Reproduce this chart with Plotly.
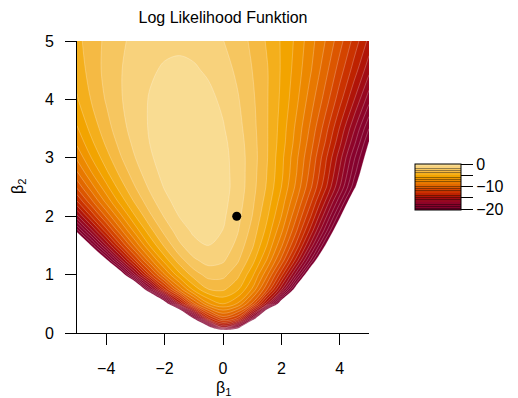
import plotly.graph_objects as go

# ---- data (log-likelihood surface, estimated) ----
beta1 = [-5, -4.5, -4, -3.5, -3, -2.5, -2, -1.5, -1, -0.5, 0, 0.5, 1, 1.5, 2, 2.5, 3, 3.5, 4, 4.5, 5]
beta2 = [0, 0.1, 0.25, 0.5, 0.75, 1.0, 1.25, 1.5, 1.75, 2.0, 2.25, 2.5, 2.75, 3.0, 3.25, 3.5, 4.0, 4.5, 5.0]

loglik = [
    [-30, -30, -30, -30, -30, -30, -30, -30, -30, -30, -27, -28, -30, -30, -30, -30, -30, -30, -30, -30, -30],
    [-30, -30, -30, -30, -30, -30, -30, -30, -30, -22.0, -15.8, -19.0, -30, -30, -30, -30, -30, -30, -30, -30, -30],
    [-30, -30, -30, -30, -30, -30, -30, -30, -20.8, -13.5, -10.6, -12.2, -18.5, -29.4, -30, -30, -30, -30, -30, -30, -30],
    [-30, -30, -30, -30, -30, -30, -22.8, -15.5, -10.2, -7.1, -6.0, -7.1, -10.2, -15.5, -22.8, -30, -30, -30, -30, -30, -30],
    [-30, -30, -30, -30, -25.4, -18.4, -12.8, -8.6, -5.6, -4.0, -3.8, -4.8, -7.1, -10.8, -15.7, -22.0, -29.5, -30, -30, -30, -30],
    [-30, -30, -29.2, -22.5, -16.7, -11.9, -8.1, -5.3, -3.5, -2.6, -2.7, -3.7, -5.7, -8.7, -12.6, -17.4, -23.2, -29.9, -30, -30, -30],
    [-30, -27.2, -21.3, -16.2, -11.9, -8.3, -5.5, -3.44, -2.15, -1.62, -1.84, -2.82, -4.55, -7.03, -10.26, -14.25, -18.99, -24.48, -30, -30, -30],
    [-26.0, -20.7, -16.1, -12.1, -8.7, -5.9, -3.8, -2.2, -1.3, -1.0, -1.3, -2.3, -3.8, -6.0, -8.8, -12.2, -16.3, -21.0, -26.3, -30, -30],
    [-20.4, -16.2, -12.5, -9.26, -6.56, -4.36, -2.67, -1.49, -0.82, -0.66, -1.02, -1.91, -3.34, -5.29, -7.78, -10.8, -14.35, -18.43, -23.05, -28.2, -30],
    [-16.3, -12.8, -9.8, -7.2, -5.0, -3.2, -1.9, -0.97, -0.49, -0.43, -0.83, -1.7, -3.0, -4.8, -7.0, -9.8, -12.9, -16.6, -20.7, -25.2, -30],
    [-13.1, -10.24, -7.73, -5.59, -3.8, -2.37, -1.31, -0.60, -0.26, -0.28, -0.70, -1.53, -2.77, -4.41, -6.46, -8.91, -11.77, -15.04, -18.72, -22.8, -27.3],
    [-10.8, -8.4, -6.3, -4.45, -3.0, -1.8, -0.92, -0.36, -0.11, -0.19, -0.62, -1.4, -2.6, -4.1, -6.0, -8.2, -10.8, -13.7, -17.0, -20.7, -24.7],
    [-9.09, -7.01, -5.2, -3.66, -2.4, -1.4, -0.68, -0.24, -0.06, -0.18, -0.64, -1.42, -2.54, -3.99, -5.77, -7.88, -10.33, -13.11, -16.22, -19.67, -23.0],
    [-7.8, -5.97, -4.4, -3.07, -2.0, -1.14, -0.53, -0.17, -0.05, -0.21, -0.67, -1.45, -2.5, -3.9, -5.7, -7.7, -10.0, -12.7, -15.6, -18.9, -22.0],
    [-6.82, -5.21, -3.83, -2.66, -1.71, -0.98, -0.47, -0.18, -0.10, -0.29, -0.76, -1.52, -2.56, -3.89, -5.5, -7.39, -9.57, -12.04, -14.78, -17.82, -21.13],
    [-6.1, -4.64, -3.4, -2.37, -1.5, -0.91, -0.48, -0.24, -0.22, -0.43, -0.91, -1.65, -2.65, -3.9, -5.4, -7.2, -9.2, -11.5, -14.1, -16.9, -20.0],
    [-5.1, -3.91, -2.9, -2.08, -1.4, -0.93, -0.61, -0.46, -0.49, -0.74, -1.2, -1.9, -2.8, -3.9, -5.2, -6.7, -8.5, -10.4, -12.6, -15.0, -17.6],
    [-4.6, -3.57, -2.7, -2.05, -1.5, -1.12, -0.89, -0.80, -0.88, -1.14, -1.57, -2.2, -3.0, -3.9, -5.1, -6.4, -7.9, -9.6, -11.5, -13.5, -15.7],
    [-4.3, -3.47, -2.8, -2.18, -1.7, -1.42, -1.24, -1.20, -1.31, -1.56, -1.97, -2.5, -3.2, -4.1, -5.1, -6.2, -7.6, -9.0, -10.6, -12.4, -14.3],
]

# point marked in the plot
point_b1 = [0.47]
point_b2 = [2.0]

# contour levels (-21 ... -1) and band colours (band k = values in [-k, -k+1])
level_start, level_end, level_step = -21, -1, 1
band_colors = [
    "#F9DC92", "#F8D27C", "#F6C660", "#F5BA44", "#F4AF1C", "#F2A400", "#F09600",
    "#EC8800", "#E87800", "#E26800", "#DC5600", "#D44400", "#CA3200", "#BE2200",
    "#B01408", "#A20C14", "#960820", "#8E0428", "#88022C", "#84022E", "#800030",
]

x_ticks = [-4, -2, 0, 2, 4]
y_ticks = [0, 1, 2, 3, 4, 5]
cbar_ticks = [0, -5, -10, -15, -20]
cbar_text = ["0", "", "\u221210", "", "\u221220"]
cbar_min, cbar_max = -20.4, 0

FONT = "Liberation Sans, Arial, sans-serif"

# colourscale for filled contour: white below the lowest level, band centres on the stops
nb = len(band_colors)
contour_scale = [[0.0, "white"]]
for k in range(nb, 0, -1):
    contour_scale.append([(nb + 1 - k) / nb, band_colors[k - 1]])


def darker(hexcol, f=0.6):
    r, g, b = int(hexcol[1:3], 16), int(hexcol[3:5], 16), int(hexcol[5:7], 16)
    return "rgb(%d,%d,%d)" % (r * f, g * f, b * f)


# stepped colourscale for the colour bar (thin darker separator at each band's bottom)
span = cbar_max - cbar_min
cbar_scale = []
for k in range(nb, 0, -1):
    lo = max(-k, cbar_min)
    hi = -k + 1
    if hi <= cbar_min:
        continue
    p0 = (lo - cbar_min) / span
    p1 = (hi - cbar_min) / span
    pm = p0 + (p1 - p0) * 0.3
    cbar_scale += [[p0, darker(band_colors[k - 1])], [pm, darker(band_colors[k - 1])],
                   [pm, band_colors[k - 1]], [p1, band_colors[k - 1]]]

fig = go.Figure()
fig.add_trace(go.Contour(
    x=beta1, y=beta2, z=loglik,
    colorscale=contour_scale,
    contours=dict(start=level_start, end=level_end, size=level_step, coloring="fill",
                  showlines=True),
    line=dict(color="rgba(255,255,255,0.35)", width=0.7, smoothing=1.0),
    showscale=False, hoverinfo="skip",
))
fig.add_trace(go.Scatter(
    x=point_b1, y=point_b2, mode="markers",
    marker=dict(color="black", size=9), hoverinfo="skip", showlegend=False,
))
fig.add_trace(go.Scatter(
    x=[None], y=[None], mode="markers", hoverinfo="skip", showlegend=False,
    marker=dict(color=[0], cmin=cbar_min, cmax=cbar_max, colorscale=cbar_scale,
                showscale=True,
                colorbar=dict(
                    x=(415 - 77) / 292, xanchor="left", xpad=0,
                    y=0.5, yanchor="middle", ypad=0,
                    thickness=46, thicknessmode="pixels",
                    len=46, lenmode="pixels",
                    outlinewidth=1, outlinecolor="black",
                    tickmode="array", tickvals=cbar_ticks, ticktext=cbar_text,
                    ticks="outside", ticklen=12, tickwidth=1, tickcolor="black",
                    tickfont=dict(family=FONT, size=16, color="black"),
                )),
))

axis_common = dict(
    showgrid=False, zeroline=False, showline=True, linecolor="black", linewidth=1,
    ticks="outside", ticklen=11, tickwidth=1, tickcolor="black",
    tickfont=dict(family=FONT, size=16, color="black"),
)
fig.update_layout(
    width=518, height=398,
    margin=dict(l=77, r=149, t=41, b=65),
    paper_bgcolor="white", plot_bgcolor="white",
    showlegend=False,
    title=dict(text="Log Likelihood Funktion", x=0.5, xref="paper", xanchor="center",
               y=1 - 17 / 398, yanchor="middle",
               font=dict(family=FONT, size=16, color="black")),
    xaxis=dict(range=[-5, 5], tickvals=x_ticks, ticklabelstandoff=10, **axis_common),
    yaxis=dict(range=[0, 5], tickvals=y_ticks, ticklabelstandoff=8, **axis_common),
    annotations=[
        dict(text="\u03b2<sub>1</sub>", xref="paper", yref="paper", x=0.5, y=(333 - 377) / 292,
             xanchor="center", yanchor="top", showarrow=False,
             font=dict(family=FONT, size=16, color="black")),
        dict(text="\u03b2<sub>2</sub>", xref="paper", yref="paper", x=(18 - 77) / 292, y=0.5,
             xanchor="center", yanchor="middle", showarrow=False, textangle=-90,
             font=dict(family=FONT, size=16, color="black")),
    ],
)

fig.write_html("out.html")
